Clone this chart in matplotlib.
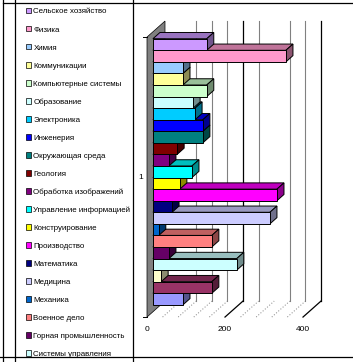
import numpy as np
import matplotlib
matplotlib.use("Agg")
import matplotlib.pyplot as plt
from matplotlib.patches import Polygon, Patch
from matplotlib.lines import Line2D
import matplotlib.colors as mcolors

plt.rcParams['font.family'] = ['Liberation Sans', 'DejaVu Sans']

# series 1 (bottom bar) .. series 23 (top bar)
series_names = [
    "Транспорт", "Энергетика", "Биология",
    "Системы управления", "Горная промышленность", "Военное дело",
    "Механика", "Медицина", "Математика", "Производство",
    "Конструирование", "Управление информацией", "Обработка изображений",
    "Геология", "Окружающая среда", "Инженерия", "Электроника",
    "Образование", "Компьютерные системы", "Коммуникации", "Химия",
    "Физика", "Сельское хозяйство",
]
values = [77, 151, 21, 215, 41, 151, 15, 300, 49, 318,
          69, 100, 41, 62, 128, 128, 108, 103, 138, 77, 77, 341, 138]
colors = ["#9999FF", "#993366", "#FFFFCC", "#CCFFFF", "#660066", "#FF8080",
          "#0066CC", "#CCCCFF", "#000080", "#FF00FF", "#FFFF00", "#00FFFF",
          "#800080", "#800000", "#008080", "#0000FF", "#00CCFF", "#CCFFFF",
          "#CCFFCC", "#FFFF99", "#99CCFF", "#FF99CC", "#CC99FF"]
category_label = "1"
value_ticks = [0, 200, 400]
minor_grid = [80, 120, 160, 240, 320, 360]
floor_minor = [40, 80, 120, 160, 240, 280, 320, 360]
legend_visible = 20   # entries that fit inside the chart area

W, H = 353, 362
fig = plt.figure(figsize=(W / 100, H / 100), dpi=100)
ax = fig.add_axes([0, 0, 1, 1])
ax.axis("off")

# pixel layout of the front plane
px_val = 0.39      # px per value unit
px_cat = 11.57     # px per bar
x0_px, y0_px = 147, 44
ax.set_xlim(-x0_px / px_val, (W - x0_px) / px_val)
ax.set_ylim((H - y0_px) / px_cat, -y0_px / px_cat)

ddx, ddy = 18 / px_val, -16 / px_cat   # depth vector
c_top, c_bot = -0.6, 23.6
n = len(values)


def P(v, c, d):
    return (v + d * ddx, c + d * ddy)


def shade(col, f):
    r, g, b = mcolors.to_rgb(col)
    return (r * f, g * f, b * f)


# back wall grid
for v in minor_grid:
    ax.plot(*zip(P(v, c_top, 1), P(v, c_bot, 1)), color="#808080", lw=0.8, zorder=1)
for v in value_ticks[1:]:
    ax.plot(*zip(P(v, c_top, 1), P(v, c_bot, 1)), color="black", lw=0.9, zorder=1)
# floor grid
for v in floor_minor:
    ax.plot(*zip(P(v, c_bot, 0), P(v, c_bot, 1)), color="#808080", lw=0.7,
            ls=(0, (1, 2)), zorder=1)
for v in value_ticks[1:]:
    ax.plot(*zip(P(v, c_bot, 0), P(v, c_bot, 1)), color="black", lw=0.9, zorder=1)

# left wall
ax.add_patch(Polygon([P(0, c_top, 0), P(0, c_top, 1), P(0, c_bot, 1), P(0, c_bot, 0)],
                     closed=True, facecolor="#808080", edgecolor="black", lw=0.5, zorder=2))

# bars, bottom first so upper bars cover hidden faces
d0, d1 = 0.33, 0.72
for s in range(n):
    k = n - 1 - s
    val, col = values[s], colors[s]
    z = 3 + s
    top = [P(0, k, d0), P(val, k, d0), P(val, k, d1), P(0, k, d1)]
    side = [P(val, k, d0), P(val, k + 1, d0), P(val, k + 1, d1), P(val, k, d1)]
    front = [P(0, k, d0), P(val, k, d0), P(val, k + 1, d0), P(0, k + 1, d0)]
    ax.add_patch(Polygon(top, closed=True, facecolor=shade(col, 0.75),
                         edgecolor="black", lw=0.7, zorder=z))
    ax.add_patch(Polygon(side, closed=True, facecolor=shade(col, 0.55),
                         edgecolor="black", lw=0.7, zorder=z))
    ax.add_patch(Polygon(front, closed=True, facecolor=col,
                         edgecolor="black", lw=0.7, zorder=z))

# category axis ticks and label
for c in (c_top, c_bot):
    ax.plot([-10, 0], [c, c], color="black", lw=0.7, zorder=30)
ax.text(-16, (c_top + c_bot) / 2, category_label, fontsize=6, ha="center",
        va="center", zorder=30)
for v in value_ticks:
    ax.text(v, c_bot + 1.1, str(v), fontsize=6, ha="center", va="center", zorder=30)

# chart area and legend frame lines
def fig_line(xs, ys, **kw):
    fig.add_artist(Line2D([x / W for x in xs], [1 - y / H for y in ys],
                          transform=fig.transFigure, color="black", lw=0.9, **kw))

fig_line([3, W], [3, 3])
fig_line([3, 3], [0, H])
fig_line([0, W], [357, 357])
fig_line([15, 15], [0, H])
fig_line([133, 133], [0, H])

order = list(range(n - 1, -1, -1))[:legend_visible]
handles = [Patch(facecolor=colors[s], edgecolor="black", lw=0.5) for s in order]
labels = [series_names[s] for s in order]
fig.legend(handles, labels, loc="upper left", bbox_to_anchor=(26 / W, 1 - 8 / H),
           bbox_transform=fig.transFigure, frameon=False, fontsize=5.7,
           handlelength=0.68, handleheight=0.68, handletextpad=0.25,
           labelspacing=1.33, borderpad=0, borderaxespad=0)

fig.savefig("out.png", dpi=100)
